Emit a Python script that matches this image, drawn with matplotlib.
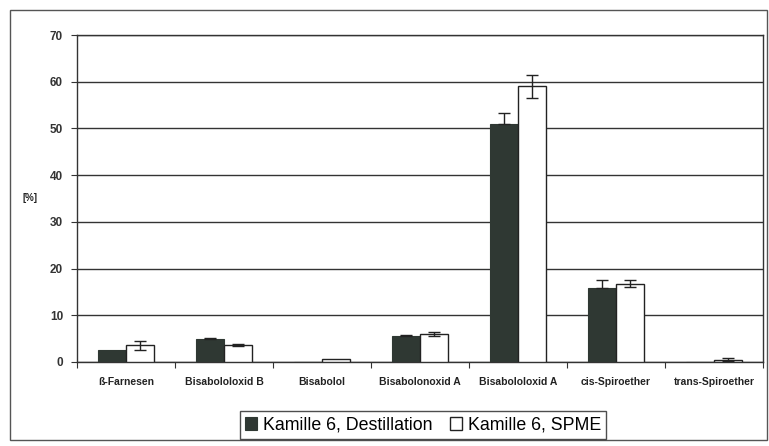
import matplotlib
matplotlib.use("Agg")
import matplotlib.pyplot as plt
from matplotlib.patches import Rectangle
import numpy as np

plt.rcParams['font.family'] = ['Liberation Sans', 'DejaVu Sans']

categories = ["ß-Farnesen", "Bisabololoxid B", "Bisabolol", "Bisabolonoxid A",
              "Bisabololoxid A", "cis-Spiroether", "trans-Spiroether"]
destillation = [2.5, 5.0, 0.0, 5.5, 51.0, 15.8, 0.0]
destillation_err = [0.0, 0.1, 0.0, 0.2, 2.2, 1.8, 0.0]
spme = [3.6, 3.7, 0.7, 6.0, 59.0, 16.8, 0.5]
spme_err = [1.0, 0.2, 0.0, 0.5, 2.4, 0.7, 0.3]
yticks = [0, 10, 20, 30, 40, 50, 60, 70]

dark = "#2f3833"

fig = plt.figure(figsize=(7.69, 4.46), dpi=100)
ax = fig.add_axes([77 / 769, 1 - 362 / 446, (763 - 77) / 769, (362 - 35) / 446])

x = np.arange(len(categories)) + 0.5
w = 0.29
ax.bar(x - w / 2, destillation, w, color=dark, edgecolor=dark, linewidth=0.8, zorder=3,
       label="Kamille 6, Destillation")
ax.bar(x + w / 2, spme, w, color="white", edgecolor="#222222", linewidth=1.0, zorder=3,
       label="Kamille 6, SPME")
# the lower whisker of a dark bar disappears into the fill, so draw it in the bar colour
for xi, v, e in zip(x - w / 2, destillation, destillation_err):
    if e > 0:
        ax.errorbar(xi, v, yerr=[[e], [0]], fmt="none", ecolor=dark, elinewidth=1.0,
                    capsize=0, zorder=4)
        ax.errorbar(xi, v, yerr=[[0], [e]], fmt="none", ecolor="#222222", elinewidth=1.0,
                    capsize=4, capthick=1.0, zorder=4)
for xi, v, e in zip(x + w / 2, spme, spme_err):
    if e > 0:
        ax.errorbar(xi, v, yerr=e, fmt="none", ecolor="#222222", elinewidth=1.0,
                    capsize=4, capthick=1.0, zorder=4)

ax.set_xlim(0, len(categories))
ax.set_ylim(0, 70)
ax.set_yticks(yticks)
ax.set_yticklabels([str(t) for t in yticks], fontsize=8.5, fontweight="bold", color="#333333")
ax.yaxis.grid(True, color="#333333", linewidth=1.0, zorder=0)
ax.set_axisbelow(True)

ax.set_xticks(np.arange(len(categories) + 1), minor=False)
ax.set_xticklabels([])
ax.set_xticks(x, minor=True)
ax.set_xticklabels(categories, minor=True, fontsize=7.5, fontweight="bold", color="#222222")
ax.tick_params(axis="x", which="minor", length=0, pad=11)
ax.tick_params(axis="x", which="major", length=4, direction="out", color="#333333")
ax.tick_params(axis="y", length=4, direction="out", color="#333333", pad=6)

for side in ["left", "bottom", "top", "right"]:
    ax.spines[side].set_color("#333333")
    ax.spines[side].set_linewidth(1.0)

fig.text(30 / 769, 1 - 198 / 446, "[%]", fontsize=7, fontweight="bold",
         ha="center", va="center", color="#222222")

# outer chart frame
fig.patches.append(Rectangle((10 / 769, 6 / 446), 757 / 769, 430 / 446,
                             transform=fig.transFigure, fill=False,
                             edgecolor="#555555", linewidth=1.0))

leg = fig.legend(loc="center", bbox_to_anchor=(423 / 769, 1 - 425 / 446), ncol=2,
                 fontsize=12.8, frameon=True, fancybox=False, edgecolor="#222222",
                 handlelength=0.7, handleheight=0.7, handletextpad=0.3,
                 columnspacing=1.0, borderpad=0.3)
leg.get_frame().set_linewidth(1.0)

fig.savefig("out.png", dpi=100)
